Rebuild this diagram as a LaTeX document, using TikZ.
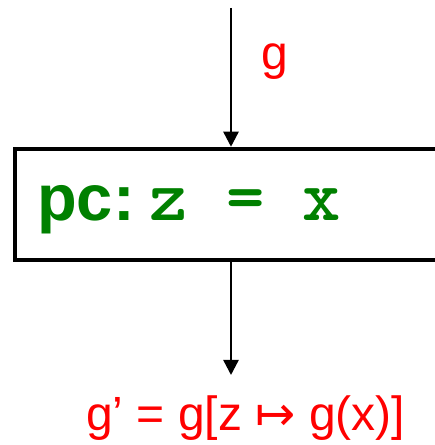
\documentclass[tikz,border=0pt]{standalone}
\usepackage{fontspec}
\setmainfont{Liberation Sans}
\newfontfamily\symfont{DejaVu Sans}
\usetikzlibrary{arrows.meta}
\definecolor{stmtgreen}{RGB}{0,128,0}
\definecolor{labelred}{RGB}{255,0,0}
\begin{document}
\begin{tikzpicture}[x=1pt,y=1pt,
  flow/.style={line width=2.4pt,-{Triangle[length=15pt,width=15pt]}},
  stmtbox/.style={draw,line width=4.5pt,minimum width=450pt,minimum height=111pt,inner sep=0pt},
  guard/.style={text=labelred,inner sep=0pt,font=\fontsize{48}{56}\selectfont}]
\useasboundingbox (0,0) rectangle (435,445);
\clip (0,0) rectangle (435,445);
% statement box, open to the right
\node[stmtbox] (stmt) at (240,240.5) {};
\node[anchor=base west,inner sep=0pt,text=stmtgreen] (code) at (37,224)
  {\fontsize{65}{80}\selectfont\bfseries pc:\hspace{15pt}\ttfamily\fontsize{73}{80}\selectfont\addfontfeatures{FakeBold=2}z = x};
% incoming and outgoing edges
\coordinate (in) at (231,437);
\coordinate (out) at (231,70);
\draw[flow] (in) -- (in |- stmt.north);
\draw[flow] (out |- stmt.south) -- (out);
% labels
\node[guard,anchor=base west] (pre) at (261,375) {g};
\node[guard,anchor=base west] (post) at (86,15) {g’ = g[z {\symfont ↦} g(x)]};
\end{tikzpicture}
\end{document}
